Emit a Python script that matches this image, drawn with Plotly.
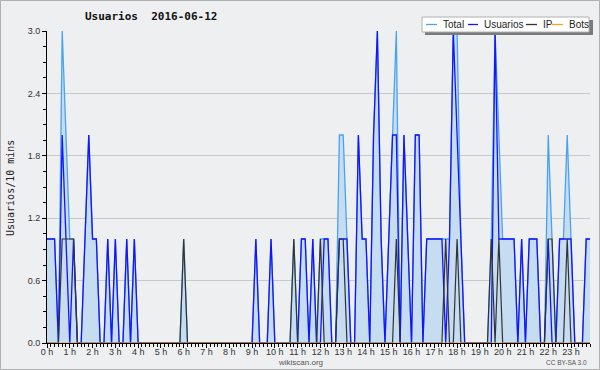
import plotly.graph_objects as go

# 10-minute slots, 0..143 (0h00 .. 23h50)
slots = list(range(144))

usuarios = [1,1,1,0,2,1,0,1,0,0, 1,2,1,1,0,0,1,0,1,0,
            0,1,0,1,0,0,0,0,0,0, 0,0,0,0,0,0,0,0,0,0,
            0,0,0,0,0,0,0,0,0,0, 0,0,0,0,0,1,0,0,0,1,
            0,0,0,0,0,0,0,1,1,0, 1,0,0,1,1,0,0,1,1,1,
            0,0,2,1,1,0,2,3,1,0, 1,2,2,0,2,1,0,2,2,0,
            1,1,1,1,1,0,1,3,2,1, 0,0,0,0,0,0,0,0,3,1,
            1,1,1,1,0,1,0,1,1,1, 0,0,1,0,0,1,1,1,1,0,
            0,0,1,1]
ip =       [0,0,0,0,1,1,1,1,0,0, 0,0,0,0,0,0,0,0,0,0,
            0,0,0,0,0,0,0,0,0,0, 0,0,0,0,0,0,1,0,0,0,
            0,0,0,0,0,0,0,0,0,0, 0,0,0,0,0,0,0,0,0,0,
            0,0,0,0,0,1,0,0,0,0, 0,0,1,0,0,0,0,1,1,0,
            0,0,0,0,0,0,0,0,0,0, 0,0,1,0,0,0,0,0,0,0,
            0,0,0,0,0,1,0,0,1,0, 0,0,0,0,0,0,0,1,0,1,
            0,0,0,0,0,0,0,0,0,0, 0,0,1,1,0,0,0,1,0,0,
            0,0,0,0]
total =    [1,1,1,0,3,2,1,1,0,0, 1,2,1,1,0,0,1,0,1,0,
            0,1,0,1,0,0,0,0,0,0, 0,0,0,0,0,0,1,0,0,0,
            0,0,0,0,0,0,0,0,0,0, 0,0,0,0,0,1,0,0,0,1,
            0,0,0,0,0,1,0,1,1,0, 1,0,1,1,1,0,0,2,2,1,
            0,0,2,1,1,0,2,3,1,0, 1,2,3,0,2,1,0,2,2,0,
            1,1,1,1,1,1,1,3,3,1, 0,0,0,0,0,0,0,1,3,2,
            1,1,1,1,0,1,0,1,1,1, 0,0,2,1,0,1,1,2,1,0,
            0,0,1,1]
bots = [0] * 144

hour_vals = [h * 6 for h in range(24)]
hour_text = [f"{h} h" for h in range(24)]
y_vals = [0, 0.6, 1.2, 1.8, 2.4, 3.0]
y_text = ["0.0", "0.6", "1.2", "1.8", "2.4", "3.0"]

title_text = "Usuarios\u00a0\u00a02016-06-12"
ytitle_text = "Usuarios/10 mins"
legend_names = ["Total", "Usuarios", "IP", "Bots"]
legend_colors = ["#4aa3f0", "#1414ff", "#333333", "#ff9f1a"]

W, H = 600, 370
L, R, T, B = 47, 10, 31, 27
PW, PH = W - L - R, H - T - B


def px(X):
    return (X - L) / PW


def py(Y):
    return (H - B - Y) / PH


fig = go.Figure()
fig.add_trace(go.Scatter(x=slots, y=total, name="Total", mode="lines",
                         line=dict(color="#4aa3f0", width=1.3),
                         fill="tozeroy", fillcolor="#c6dcf0"))
fig.add_trace(go.Scatter(x=slots, y=usuarios, name="Usuarios", mode="lines",
                         line=dict(color="#1414ff", width=1.3)))
fig.add_trace(go.Scatter(x=slots, y=ip, name="IP", mode="lines",
                         line=dict(color="#333333", width=1.2)))
fig.add_trace(go.Scatter(x=slots, y=bots, name="Bots", mode="lines",
                         line=dict(color="#ff9f1a", width=1.2)))

bg = "#eeeff1"
fig.update_layout(
    width=W, height=H,
    margin=dict(l=L, r=R, t=T, b=B, pad=0),
    paper_bgcolor=bg, plot_bgcolor=bg,
    showlegend=False,
    hovermode=False,
    font=dict(family="Liberation Sans", size=9, color="#333333"),
)
fig.update_xaxes(range=[0, 143], tickvals=hour_vals, ticktext=hour_text,
                 ticks="outside", ticklen=4, tickcolor="#000", tickwidth=1,
                 minor=dict(dtick=1, tick0=0, ticks="outside", ticklen=3,
                            tickcolor="#000", tickwidth=1),
                 showline=True, linecolor="#000", linewidth=1,
                 showgrid=False, zeroline=False, ticklabelstandoff=-4,
                 tickfont=dict(family="Liberation Sans", size=9, color="#333"))
fig.update_yaxes(range=[0, 3], tickvals=y_vals, ticktext=y_text,
                 ticks="outside", ticklen=4, tickcolor="#000", tickwidth=1,
                 minor=dict(dtick=0.15, tick0=0, ticks="outside", ticklen=3,
                            tickcolor="#000", tickwidth=1, showgrid=False),
                 showline=True, linecolor="#000", linewidth=1,
                 showgrid=True, gridcolor="#c8c8c8", gridwidth=1,
                 zeroline=False,
                 tickfont=dict(family="Liberation Sans", size=9, color="#333"))

shapes = []
# outer border
shapes.append(dict(type="rect", xref="paper", yref="paper",
                   x0=px(0.5), x1=px(599.5), y0=py(0.5), y1=py(369.5),
                   line=dict(color="#b0b0b0", width=1), fillcolor="rgba(0,0,0,0)"))
# legend shadow + box
shapes.append(dict(type="rect", xref="paper", yref="paper",
                   x0=px(425), x1=px(593), y0=py(20), y1=py(35),
                   line=dict(width=0), fillcolor="#7a7a7a"))
shapes.append(dict(type="rect", xref="paper", yref="paper",
                   x0=px(422), x1=px(589), y0=py(17), y1=py(32),
                   line=dict(color="#b0b0b0", width=1), fillcolor="#ffffff"))
leg_line_x = [(426, 437), (468, 478), (526, 537), (552, 563)]
leg_text_x = [441, 482, 541, 567]
for (a, b), c in zip(leg_line_x, legend_colors):
    shapes.append(dict(type="line", xref="paper", yref="paper",
                       x0=px(a), x1=px(b), y0=py(24.5), y1=py(24.5),
                       line=dict(color=c, width=1.3)))
fig.update_layout(shapes=shapes)

ann = []
for name, tx in zip(legend_names, leg_text_x):
    ann.append(dict(text=name, xref="paper", yref="paper", x=px(tx), y=py(24.5),
                    xanchor="left", yanchor="middle", showarrow=False,
                    font=dict(family="Liberation Sans", size=10, color="#222")))
ann.append(dict(text="<b>" + title_text + "</b>", xref="paper", yref="paper",
                x=px(151), y=py(17),
                xanchor="center", yanchor="middle", showarrow=False,
                font=dict(family="DejaVu Sans Mono", size=11, color="#111")))
ann.append(dict(text=ytitle_text, xref="paper", yref="paper", x=px(10), y=py(188),
                xanchor="center", yanchor="middle", showarrow=False, textangle=-90,
                font=dict(family="DejaVu Sans Mono", size=10, color="#222")))
ann.append(dict(text="wikiscan.org", xref="paper", yref="paper", x=px(300), y=py(362),
                xanchor="center", yanchor="middle", showarrow=False,
                font=dict(family="Liberation Sans", size=8, color="#555")))
ann.append(dict(text="CC BY-SA 3.0", xref="paper", yref="paper", x=px(566), y=py(362),
                xanchor="center", yanchor="middle", showarrow=False,
                font=dict(family="Liberation Sans", size=6.5, color="#555")))
fig.update_layout(annotations=ann)

fig.write_html("out.html",
               config={"displayModeBar": False, "staticPlot": True},
               post_script="document.body.style.margin='0';"
                           "document.body.style.padding='0';")
